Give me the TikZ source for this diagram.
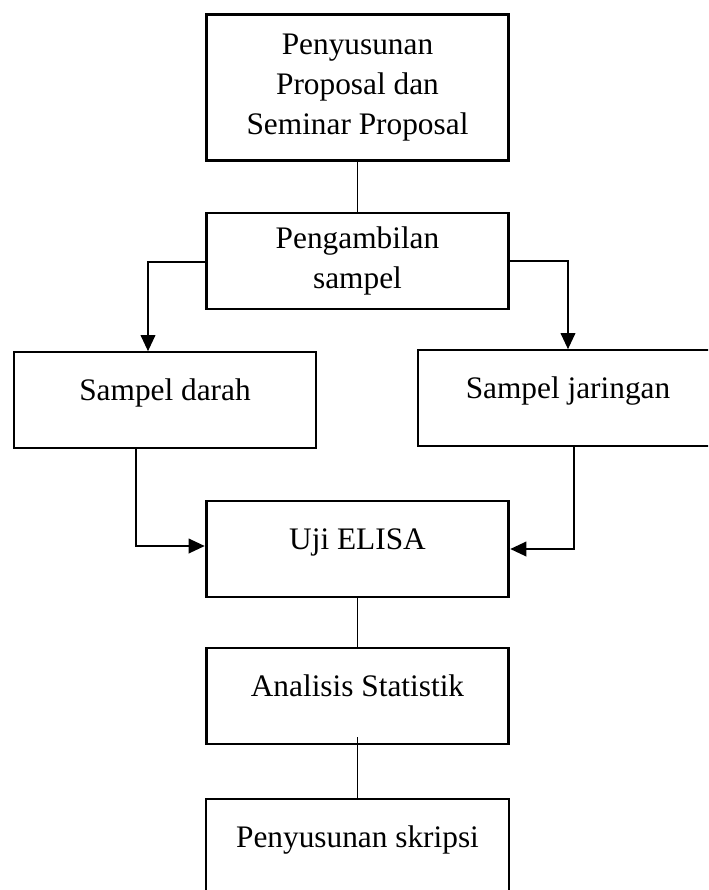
\documentclass[tikz,border=0pt]{standalone}
\usepackage{fontspec}
\setmainfont{Liberation Serif}
\usetikzlibrary{arrows.meta}
\tikzset{every picture/.style={line width=0.75pt}}
\begin{document}
\begin{tikzpicture}[x=0.75pt,y=0.75pt,yscale=-1,xscale=1,
  tebal/.style={draw, line width=2.2pt, minimum width=227pt, minimum height=72pt, align=center, font=\fontsize{23.5}{30}\selectfont},
  tipis/.style={tebal, line width=1.3pt},
  satubaris/.style={text height=16pt, text depth=16pt},
  panah/.style={line width=1.1pt, -{Triangle[length=12pt,width=11pt]}},
  garis/.style={line width=1.1pt}]
\useasboundingbox (0,0) rectangle (708,890);
\clip (0,0) rectangle (708,890);

% Text Node
\node[tebal, minimum height=110pt] (proposal) at (357.5,87.5) {Penyusunan\\Proposal dan\\Seminar Proposal};
% Text Node
\node[tebal] (ambil) at (357.5,261) {Pengambilan\\sampel};
% Text Node
\node[tipis, satubaris] (darah) at (165,400) {Sampel darah};
% Text Node
\node[tipis, satubaris, minimum width=225pt] (jaringan) at (568,398) {Sampel jaringan};
% Text Node
\node[tebal, satubaris] (elisa) at (357.5,549) {Uji ELISA};
% Text Node
\node[tebal, satubaris] (statistik) at (357.5,696) {Analisis Statistik};
% Text Node
\node[tipis, satubaris] (skripsi) at (357.5,847) {Penyusunan skripsi};

\coordinate (kiri) at (148,262);
\coordinate (dbawah) at (136,546);
\coordinate (jbawah) at (574,549);

% Connection
\draw[garis] (proposal) -- (ambil);
% Connection
\draw[panah] (ambil.west |- kiri) -- (kiri) -- (kiri |- darah.north);
% Connection
\draw[panah] (ambil.east) -| (jaringan.north);
% Connection
\draw[panah] (darah.south -| dbawah) -- (dbawah) -- (dbawah -| elisa.west);
% Connection
\draw[panah] (jaringan.south -| jbawah) |- (elisa.east);
% Connection
\draw[garis] (elisa) -- (statistik);
% Connection
\draw[garis, line width=0.9pt] ([yshift=-6pt]statistik.south) -- (skripsi);

\end{tikzpicture}
\end{document}
